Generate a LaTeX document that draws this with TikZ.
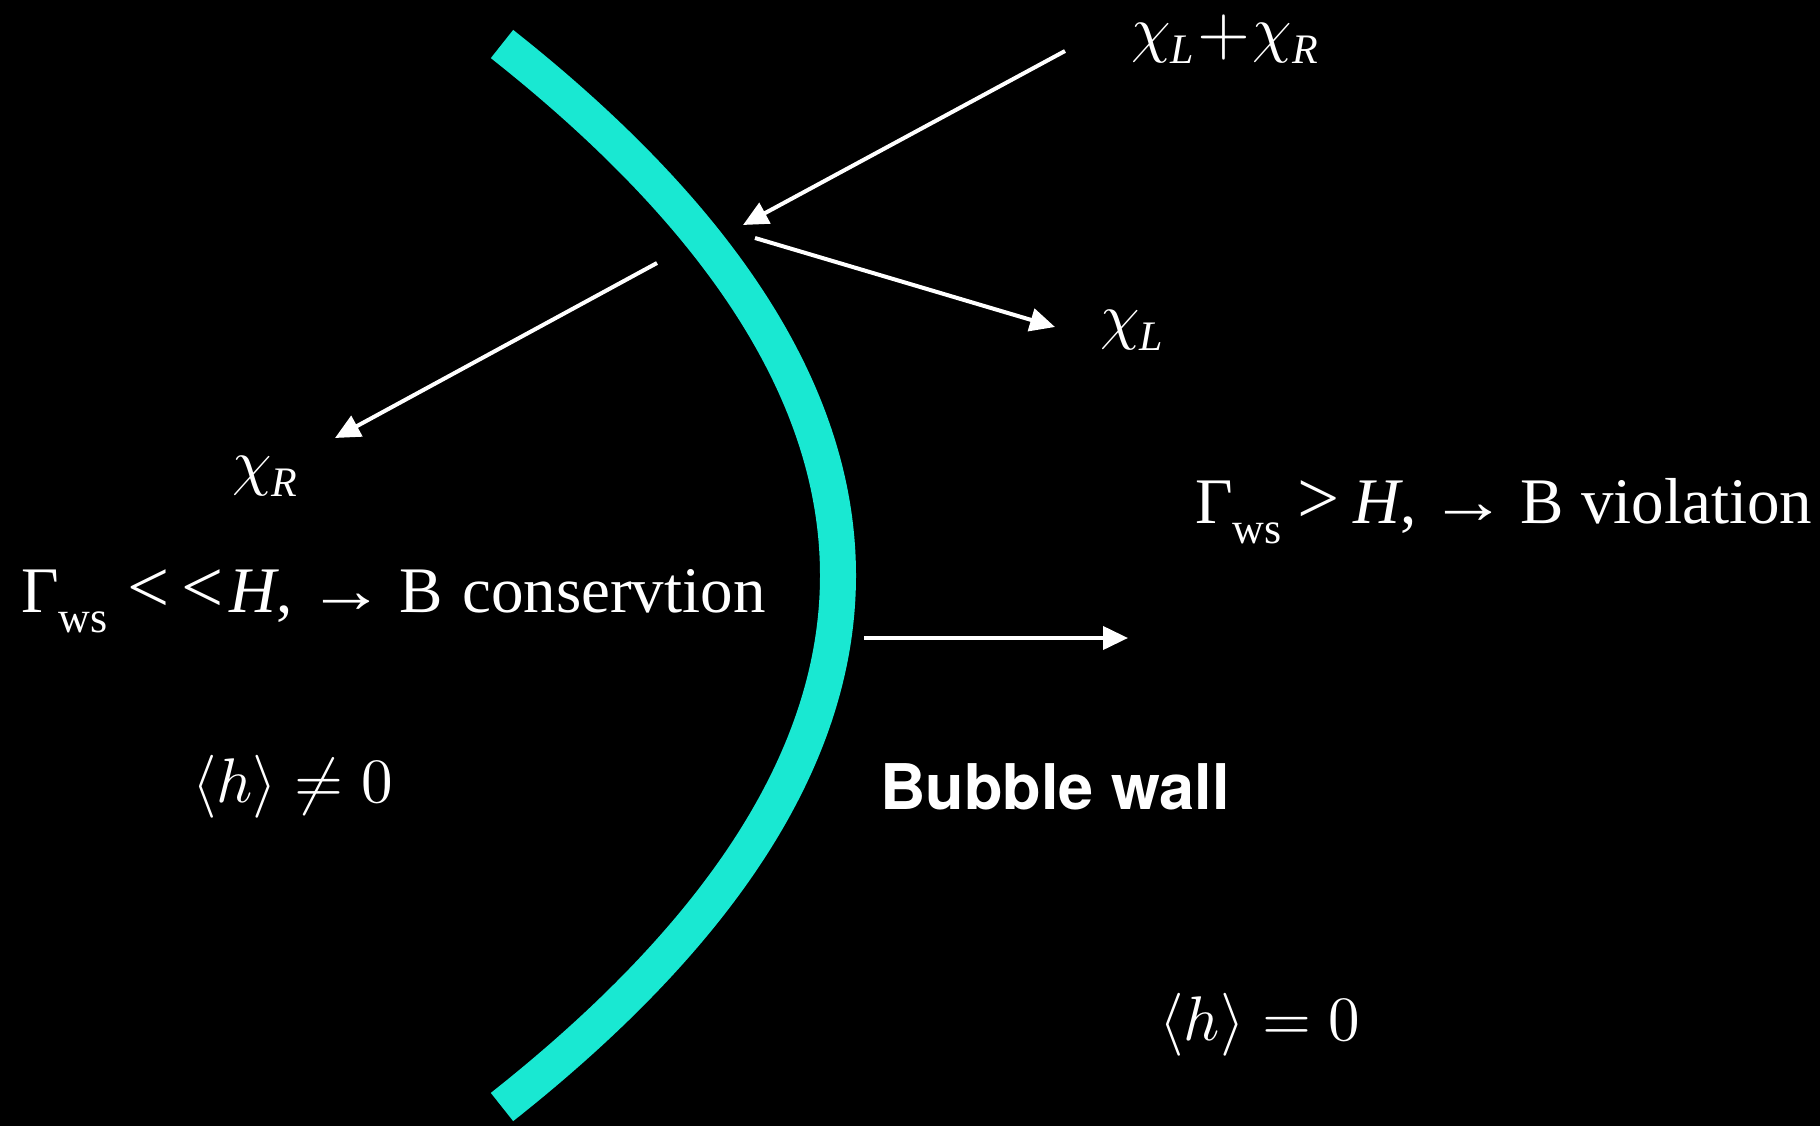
\documentclass[tikz,border=0pt]{standalone}
\usepackage[no-math]{fontspec}
\setmainfont{Liberation Serif}
\newfontfamily\headfont{TeX Gyre Heros}
\usetikzlibrary{arrows.meta}
\definecolor{wallcol}{RGB}{25,232,210}
\newcommand{\lsub}[1]{\raisebox{-0.2em}{\fontsize{42}{42}\selectfont\itshape #1}}
\newcommand{\wsub}[1]{\raisebox{-0.32em}{\fontsize{44}{44}\selectfont #1}}
\newcommand{\rarr}{\scalebox{1.2}[1]{→}}
\newcommand{\rel}[1]{\scalebox{1.15}{#1}}
\newcommand{\mth}[1]{\scalebox{6.3}{\fontsize{10}{12}\selectfont$#1$}}
\newcommand{\mplus}{\raisebox{-3.5pt}{\scalebox{6.8}{\fontsize{10}{12}\selectfont$+$}}}
\tikzset{
  lbl/.style={text=white, inner sep=0pt, anchor=base west, font=\fontsize{65}{72}\selectfont},
  arr/.style={draw=white, line width=4pt, -{Triangle[length=25pt,width=23pt]}},
  wall/.style={draw=wallcol, line width=36pt, line cap=butt}
}
\begin{document}
\begin{tikzpicture}[x=1pt,y=-1pt]
\useasboundingbox (0,0) rectangle (1820,1126);
\fill[black] (0,0) rectangle (1820,1126);
% bubble wall (parabola)
\coordinate (wtop) at (502,44);
\coordinate (wbot) at (502,1107);
\draw[wall] (wtop) .. controls (950,398.3) and (950,752.7) .. (wbot);
% labels
\node[lbl] (lr) at (1131,51) {\mth{\chi}\lsub{L}\hspace{0.05em}\mplus\hspace{0.04em}\mth{\chi}\lsub{R}};
\node[lbl] (l) at (1100,337) {\mth{\chi}\lsub{L}};
\node[lbl] (r) at (232,483) {\mth{\chi}\lsub{R}};
\node[lbl] (cons) at (21,612) {Γ\wsub{ws}\hspace{0.3em}\rel{<}\hspace{0.18em}\rel{<}\hspace{0.1em}\textit{H},\hspace{0.22em}\rarr\hspace{0.22em}B\hspace{0.3em}conservtion};
\node[lbl] (viol) at (1195,523) {Γ\wsub{ws}\hspace{0.25em}\rel{>}\hspace{0.2em}\textit{H},\hspace{0.2em}\rarr\hspace{0.2em}B\hspace{0.27em}violation};
\node[lbl] (hne) at (192,802) {\mth{\langle h\rangle \neq 0}};
\node[lbl] (heq) at (1159,1040) {\mth{\langle h\rangle = 0}};
\node[text=white, inner sep=0pt, font=\headfont\bfseries\fontsize{63}{70}\selectfont] (bw) at (1055,787) {Bubble wall};
% arrows
\coordinate (a1s) at (1065,51);
\coordinate (a1e) at (743,225);
\coordinate (a2s) at (755,238);
\coordinate (a2e) at (1055,327);
\coordinate (a3s) at (657,263);
\coordinate (a3e) at (335,438);
\coordinate (a4s) at (864,638);
\coordinate (a4e) at (1128,638);
\draw[arr] (a1s) -- (a1e);
\draw[arr] (a2s) -- (a2e);
\draw[arr] (a3s) -- (a3e);
\draw[arr] (a4s) -- (a4e);
\end{tikzpicture}
\end{document}
